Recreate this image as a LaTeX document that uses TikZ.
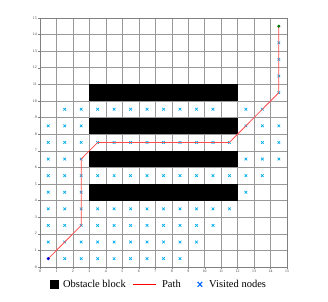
\documentclass[tikz,border=0pt]{standalone}
\usepackage{fontspec}
\setmainfont{Liberation Serif}
\begin{document}
\begin{tikzpicture}[x=16.47pt,y=16.6pt,
  gridline/.style={draw=gray!80, line width=0.45pt},
  obstacle/.style={fill=black, draw=none},
  pathline/.style={draw=red!70, line width=0.8pt},
  visited/.style={draw=cyan, line width=0.7pt},
  ticklbl/.style={font=\fontsize{3.8}{4}\selectfont, text=black!80, inner sep=0.5pt},
  legendtxt/.style={font=\fontsize{10.5}{12}\selectfont, anchor=base west, inner sep=0pt}]
\useasboundingbox[fill=white] (-2.429,-2.108) rectangle (17.486,16.08);
% grid
\foreach \i in {0,...,15} {
  \draw[gridline] (\i,0) -- (\i,15);
  \draw[gridline] (0,\i) -- (15,\i);
  \draw[gray, line width=0.4pt] (\i,0) -- (\i,-0.12);
  \draw[gray, line width=0.4pt] (0,\i) -- (-0.12,\i);
  \node[ticklbl, anchor=north] (xt\i) at (\i,-0.14) {\i};
  \node[ticklbl, anchor=east] (yt\i) at (-0.16,\i) {\i};
}
\draw[gray, line width=0.6pt] (0,0) rectangle (15,15);
% obstacles
\foreach \y in {4,6,8,10} {
  \fill[obstacle] (3,\y) rectangle (12,\y+1);
}
% visited nodes
\newcommand{\vmark}[2]{\draw[visited] (#1-0.08,#2-0.08) -- (#1+0.08,#2+0.08) (#1-0.08,#2+0.08) -- (#1+0.08,#2-0.08);}
\foreach \x in {1.5,2.5,...,8.5} {\vmark{\x}{0.5}}
\foreach \x in {0.5,1.5,...,9.5} {\vmark{\x}{1.5}}
\foreach \x in {0.5,1.5,...,10.5} {\vmark{\x}{2.5}}
\foreach \x in {0.5,1.5,...,11.5} {\vmark{\x}{3.5}}
\foreach \x in {0.5,1.5,2.5,12.5} {\vmark{\x}{4.5}}
\foreach \x in {0.5,1.5,...,13.5} {\vmark{\x}{5.5}}
\foreach \x in {0.5,1.5,2.5,12.5,13.5,14.5} {\vmark{\x}{6.5}}
\foreach \x in {0.5,1.5,...,11.5} {\vmark{\x}{7.5}}
\foreach \x in {13.5,14.5} {\vmark{\x}{7.5}}
\foreach \x in {0.5,1.5,2.5,12.5,13.5,14.5} {\vmark{\x}{8.5}}
\foreach \x in {1.5,2.5,...,10.5} {\vmark{\x}{9.5}}
\foreach \x in {12.5,13.5} {\vmark{\x}{9.5}}
\foreach \y in {10.5,11.5,12.5,13.5} {\vmark{14.5}{\y}}
% path
\coordinate (p0) at (0.5,0.5);
\coordinate (p1) at (2.5,2.5);
\coordinate (p2) at (2.5,6.5);
\coordinate (p3) at (3.5,7.5);
\coordinate (p4) at (11.5,7.5);
\coordinate (p5) at (14.5,10.5);
\coordinate (p6) at (14.5,14.5);
\draw[pathline] (p0) -- (p1) -- (p2) -- (p3) -- (p4) -- (p5) -- (p6);
\fill[blue!85!black] (p0) circle (1.7pt);
\fill[green!45!black] (p6) circle (1.7pt);
% legend
\fill[black] (0.6,-1.32) rectangle (1.15,-0.78);
\node[legendtxt] (lobs) at (1.39,-1.25) {Obstacle block};
\draw[red, line width=0.8pt] (5.64,-1.03) -- (7.04,-1.03);
\node[legendtxt] (lpath) at (7.4,-1.25) {Path};
\draw[blue!60!cyan, line width=1.1pt] (9.57,-1.2) -- (9.85,-0.9) (9.57,-0.9) -- (9.85,-1.2);
\node[legendtxt] (lvis) at (10.26,-1.25) {Visited nodes};
\end{tikzpicture}
\end{document}
